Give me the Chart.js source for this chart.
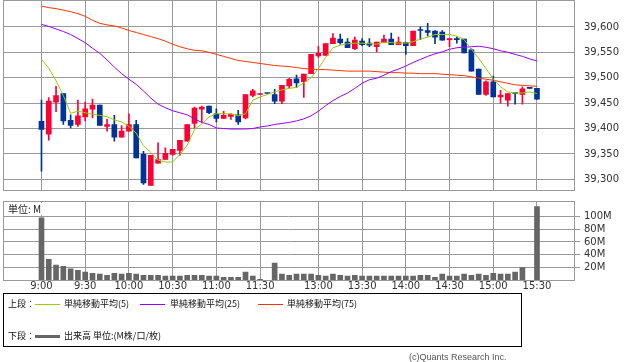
<!DOCTYPE html>
<html>
<head>
<meta charset="utf-8">
<script src="https://cdn.jsdelivr.net/npm/chart.js@4.4.1/dist/chart.umd.min.js"></script>
<style>
body { margin:0; background:#fff; width:638px; height:362px; overflow:hidden; position:relative; font-family:"Noto Sans CJK JP", sans-serif; }
.box { position:absolute; left:0; width:638px; }
#priceBox { top:0; height:196px; }
#volBox { top:196px; height:104px; }
#unit { position:absolute; left:7px; top:203px; font-size:10px; line-height:12px; background:#fff; padding:0 1px; color:#222; }
#legend { position:absolute; left:3px; top:293px; width:517px; height:52px; border:1px solid #000; font-size:9px; color:#111; }
#legend span { position:absolute; white-space:nowrap; line-height:12px; }
#legend i { position:absolute; width:25px; height:1px; }
#copy { position:absolute; left:409px; top:352px; font:9px "Liberation Sans", Arial, sans-serif; line-height:11px; color:#555; }
</style>
</head>
<body>
<div id="priceBox" class="box"><canvas id="priceChart"></canvas></div>
<div id="volBox" class="box"><canvas id="volChart"></canvas></div>
<div id="unit">単位: M</div>
<div id="legend">
  <span style="left:4px;top:4px">上段：</span>
  <i style="left:31px;top:10px;background:#99cc00"></i>
  <span style="left:60px;top:4px">単純移動平均(5)</span>
  <i style="left:136px;top:10px;background:#9900ff"></i>
  <span style="left:166px;top:4px">単純移動平均(25)</span>
  <i style="left:254px;top:10px;background:#ff3300"></i>
  <span style="left:283px;top:4px">単純移動平均(75)</span>
  <span style="left:4px;top:36px">下段：</span>
  <i style="left:31px;top:41px;height:3px;background:#666"></i>
  <span style="left:60px;top:36px">出来高 単位:(M株/口/枚)</span>
</div>
<div id="copy">(c)Quants Research Inc.</div>
<script>
// 5-minute bars, 9:00 .. 15:30 (slot 31 is the lunch break filler)
const opens = [39414,39389,39452,39469,39416,39408,39423,39438,39446,39404,
  39408,39383,39395,39408,39349,39288,39332,39339,39349,39357,
  39375,39410,39438,39444,39429,39420,39424,39427,39421,39465,
  39467,39469,39467,39454,39484,39498,39492,39508,39543,39544,
  39567,39576,39570,39557,39572,39568,39561,39569,39576,39565,
  39569,39563,39594,39593,39592,39590,39575,39577,39576,39555,
  39517,39467,39492,39462,39456,39470,39467,39479,39479];
const highs = [39456,39461,39483,39469,39427,39456,39452,39458,39446,39418,
  39426,39406,39429,39416,39355,39347,39372,39362,39359,39377,
  39408,39442,39444,39444,39439,39434,39429,39436,39467,39477,
  39469,39469,39477,39485,39499,39505,39507,39546,39562,39567,
  39587,39586,39577,39580,39577,39577,39570,39584,39588,39580,
  39569,39592,39600,39607,39593,39593,39577,39580,39576,39557,
  39517,39494,39503,39475,39469,39470,39482,39479,39479];
const lows = [39316,39377,39433,39408,39401,39404,39415,39421,39406,39395,
  39375,39383,39395,39342,39290,39288,39332,39339,39347,39347,
  39375,39401,39412,39429,39413,39420,39418,39408,39419,39462,
  39467,39469,39449,39449,39480,39481,39461,39508,39540,39544,
  39567,39566,39559,39555,39563,39561,39551,39569,39565,39565,
  39546,39563,39575,39582,39567,39574,39561,39568,39549,39513,
  39467,39465,39462,39450,39444,39448,39448,39479,39458];
const closes = [39398,39454,39465,39415,39406,39425,39439,39446,39406,39408,
  39383,39395,39408,39342,39293,39347,39339,39351,39359,39377,
  39408,39440,39442,39431,39420,39426,39428,39413,39467,39474,
  39469,39469,39454,39485,39497,39490,39507,39546,39548,39567,
  39578,39569,39559,39574,39565,39564,39570,39576,39565,39570,
  39563,39592,39593,39589,39580,39574,39577,39575,39549,39513,
  39467,39492,39462,39466,39469,39469,39478,39479,39458];

const ma5 = [39536,39519,39494,39465,39430,39434,39431,39428,39426,39423,
  39417,39413,39404,39391,39366,39353,39338,39334,39334,39349,
  39367,39398,39409,39423,39429,39429,39429,39425,39429,39456,
  39462,39467,39472,39476,39479,39481,39490,39500,39518,39540,
  39559,39564,39567,39568,39568,39567,39566,39570,39569,39568,
  39568,39571,39576,39580,39585,39585,39585,39582,39575,39556,
  39538,39518,39498,39482,39472,39470,39470,39472,39469];
const ma25 = [39605,39601,39596,39591,39585,39577,39569,39558,39548,39535,
  39521,39508,39497,39487,39474,39460,39448,39441,39435,39431,
  39427,39419,39412,39408,39401,39400,39399,39399,39399,39400,
  39403,39405,39408,39410,39412,39415,39419,39425,39434,39445,
  39455,39463,39470,39479,39489,39496,39499,39505,39512,39517,
  39523,39530,39536,39542,39547,39551,39556,39559,39560,39561,
  39562,39560,39557,39553,39550,39546,39542,39537,39533];
const ma75 = [39641,39638,39636,39633,39630,39626,39621,39613,39607,39604,
  39602,39598,39593,39589,39585,39581,39577,39572,39566,39561,
  39557,39554,39553,39550,39546,39542,39538,39534,39532,39530,
  39528,39526,39524,39523,39522,39520,39518,39517,39516,39516,
  39515,39514,39513,39513,39513,39513,39512,39511,39510,39510,
  39509,39509,39508,39508,39508,39507,39506,39505,39504,39502,
  39499,39497,39495,39492,39489,39486,39485,39484,39483];

// volume in millions
const volumes = [97.5,33,24,22,18,16,13,11,10,8,
  11,10,11,10,8,8,8,7,7,7,
  8,8,8,7,7,5,5,5,13,7,
  2,null,27,10,8,10,10,10,8,7,
  10,8,7,8,7,7,7,7,7,7,
  7,7,8,8,5,10,7,7,10,8,
  10,8,11,10,10,13,20,null,115];

const tickSlots = [0, 6, 12, 18, 24, 30, 38, 44, 50, 56, 62, 68];
const tickLabels = ['9:00','9:30','10:00','10:30','11:00','11:30','13:00','13:30','14:00','14:30','15:00','15:30'];
const priceTicks = [39300, 39350, 39400, 39450, 39500, 39550, 39600];
const volTicks = [20, 40, 60, 80, 100];

const RED = '#ff0033';
const BLUE = '#003399';
const GRID = '#999';
const candleColor = opens.map((o, i) => closes[i] > o ? RED : BLUE);

const framePlugin = {
    id: 'frame',
    afterDraw(chart) {
        const { ctx, chartArea: a } = chart;
        ctx.save();
        ctx.strokeStyle = GRID;
        ctx.lineWidth = 1;
        const l = Math.floor(a.left) + 0.5, t = Math.floor(a.top) + 0.5;
        const r = Math.floor(a.right) + 0.5, b = Math.floor(a.bottom) + 0.5;
        ctx.strokeRect(l, t, r - l, b - t);
        ctx.restore();
    }
};

// keep the plot area where the layout padding puts it
function noPad(s) {
    s.paddingTop = 0; s.paddingBottom = 0;
    s.paddingLeft = 0; s.paddingRight = 0;
}

function xScale(showLabels) {
    return {
        type: 'linear',
        min: -5.28,
        max: 73.08,
        offset: false,
        afterBuildTicks: s => { s.ticks = tickSlots.map(v => ({ value: v })); },
        afterFit: s => { s.height = showLabels ? 19.5 : 0; noPad(s); },
        grid: { color: GRID, drawTicks: false, offset: false },
        border: { display: false },
        ticks: {
            display: showLabels,
            autoSkip: false,
            maxRotation: 0,
            padding: 0,
            color: '#333',
            font: { family: 'DejaVu Sans', size: 10 },
            callback: v => tickLabels[tickSlots.indexOf(v)]
        }
    };
}

const pts = arr => arr.map((v, i) => ({ x: i, y: v }));
const maLine = (arr, color) => ({
    type: 'line', data: pts(arr), borderColor: color, borderWidth: 1,
    pointRadius: 0, tension: 0, order: 0
});

new Chart(document.getElementById('priceChart'), {
    type: 'bar',
    data: {
        datasets: [
            { data: lows.map((l, i) => ({ x: i, y: [l, highs[i]] })), backgroundColor: candleColor,
              barThickness: 1, grouped: false, order: 2 },
            { data: opens.map((o, i) => ({ x: i, y: [o, closes[i]] })), backgroundColor: candleColor,
              barThickness: 5, minBarLength: 1, grouped: false, order: 1 },
            maLine(ma5, '#99cc00'),
            maLine(ma25, '#9900ff'),
            maLine(ma75, '#ff3300')
        ]
    },
    options: {
        responsive: true,
        maintainAspectRatio: false,
        animation: false,
        events: [],
        layout: { padding: { left: 3, right: 0, top: 0.5, bottom: 5.5 } },
        plugins: { legend: { display: false }, tooltip: { enabled: false } },
        scales: {
            x: xScale(false),
            y: {
                position: 'right',
                min: 39278,
                max: 39652,
                afterBuildTicks: s => { s.ticks = priceTicks.map(v => ({ value: v })); },
                afterFit: s => { s.width = 64; noPad(s); },
                grid: { color: GRID, drawTicks: false },
                border: { display: false },
                ticks: {
                    padding: 10,
                    color: '#333',
                    font: { family: 'DejaVu Sans', size: 10 },
                    callback: v => v.toLocaleString('en-US')
                }
            }
        }
    },
    plugins: [framePlugin]
});

new Chart(document.getElementById('volChart'), {
    type: 'bar',
    data: {
        datasets: [{ data: pts(volumes), backgroundColor: '#666', barThickness: 5 }]
    },
    options: {
        responsive: true,
        maintainAspectRatio: false,
        animation: false,
        events: [],
        layout: { padding: { left: 3, right: 0, top: 5.5, bottom: 0 } },
        plugins: { legend: { display: false }, tooltip: { enabled: false } },
        scales: {
            x: xScale(true),
            y: {
                position: 'right',
                min: 0,
                max: 123,
                afterBuildTicks: s => { s.ticks = volTicks.map(v => ({ value: v })); },
                afterFit: s => { s.width = 64; noPad(s); },
                grid: { color: GRID, drawTicks: true, tickLength: 6 },
                border: { display: false },
                ticks: {
                    padding: 4,
                    color: '#333',
                    font: { family: 'DejaVu Sans', size: 10 },
                    callback: v => v + 'M'
                }
            }
        }
    },
    plugins: [framePlugin]
});
</script>
</body>
</html>
